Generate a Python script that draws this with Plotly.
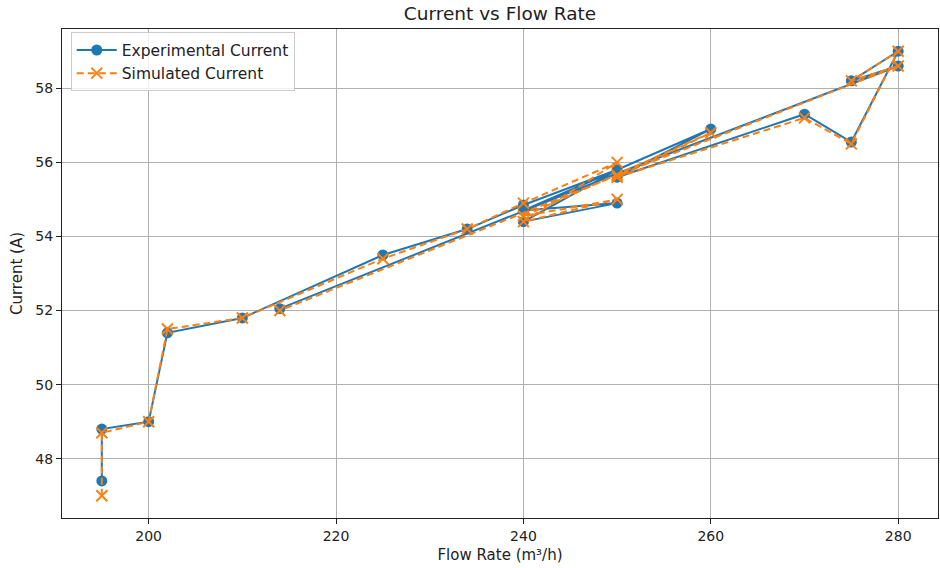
import plotly.graph_objects as go

# Measurement log: flow rate and the measured / simulated current for each run
flow_rate = [195, 195, 200, 202, 210, 225, 234, 240, 250, 240, 250, 240,
             260, 250, 270, 275, 280, 275, 280, 250, 214]
experimental_current = [47.4, 48.8, 49.0, 51.4, 51.8, 53.5, 54.2, 54.85, 55.8, 54.4, 54.9, 54.7,
                        56.9, 55.6, 57.3, 56.55, 59.0, 58.2, 58.6, 55.7, 52.05]
simulated_current = [47.0, 48.7, 49.0, 51.5, 51.8, 53.4, 54.2, 54.9, 56.0, 54.4, 55.0, 54.55,
                     56.8, 55.6, 57.2, 56.5, 59.0, 58.2, 58.6, 55.65, 52.0]

x_ticks = [200, 220, 240, 260, 280]
y_ticks = [48, 50, 52, 54, 56, 58]

BLUE = "#1f77b4"
ORANGE = "#ff7f0e"
FONT = "DejaVu Sans"

fig = go.Figure()
fig.add_trace(go.Scatter(
    x=flow_rate, y=experimental_current, mode="lines+markers",
    name="Experimental Current",
    line=dict(color=BLUE, width=2),
    marker=dict(symbol="circle", size=11, color=BLUE),
))
fig.add_trace(go.Scatter(
    x=flow_rate, y=simulated_current, mode="lines+markers",
    name="Simulated Current",
    line=dict(color=ORANGE, width=2, dash="7px,4px"),
    marker=dict(symbol="x-thin", size=11, color=ORANGE,
                line=dict(color=ORANGE, width=2)),
))

lo_x, hi_x = min(flow_rate), max(flow_rate)
all_y = experimental_current + simulated_current
lo_y, hi_y = min(all_y), max(all_y)
pad_x = 0.05 * (hi_x - lo_x)
pad_y = 0.05 * (hi_y - lo_y)

axis_common = dict(
    showline=True, linecolor="#222", linewidth=1.3, mirror=True,
    showgrid=True, gridcolor="#b0b0b0", gridwidth=1,
    ticks="outside", ticklen=5, tickcolor="#222", tickwidth=1.3,
    zeroline=False,
    tickfont=dict(family=FONT, size=14, color="#222"),
)

fig.update_layout(
    width=940, height=568,
    margin=dict(l=62, r=2, t=29, b=50),
    paper_bgcolor="white", plot_bgcolor="white",
    font=dict(family=FONT, size=14, color="#222"),
    title=dict(text="Current vs Flow Rate", xref="paper", x=0.5, xanchor="center",
               yref="container", y=0.977, yanchor="middle",
               font=dict(family=FONT, size=18.5, color="#222")),
    xaxis=dict(range=[lo_x - pad_x, hi_x + pad_x], tickvals=x_ticks,
               title=dict(text="Flow Rate (m³/h)", standoff=6,
                          font=dict(family=FONT, size=15)),
               **axis_common),
    yaxis=dict(range=[lo_y - pad_y, hi_y + pad_y], tickvals=y_ticks,
               title=dict(text="Current (A)", standoff=8,
                          font=dict(family=FONT, size=15)),
               **axis_common),
    legend=dict(x=0.01, y=0.993, xanchor="left", yanchor="top",
                bgcolor="rgba(255,255,255,0.8)", bordercolor="#cccccc",
                borderwidth=1, font=dict(family=FONT, size=15.5),
                tracegroupgap=0, itemwidth=40),
    showlegend=True,
)

fig.write_html("out.html")
